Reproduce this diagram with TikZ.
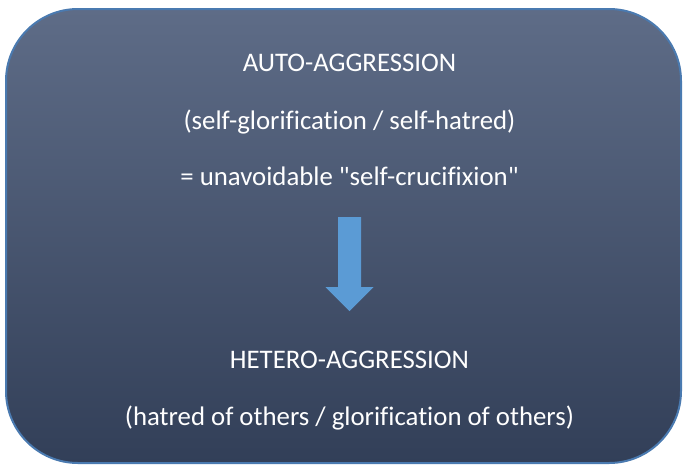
\documentclass[tikz,border=0pt]{standalone}
\usepackage{fontspec}
\setmainfont{Carlito}[Ligatures={NoCommon,TeXOff}]
\usepackage{xcolor}

\definecolor{paneltop}{RGB}{94,108,135}
\definecolor{panelbottom}{RGB}{50,63,88}
\definecolor{panelborder}{RGB}{74,122,176}
\definecolor{arrowblue}{RGB}{91,155,213}

\tikzset{
  label/.style={anchor=base, text=white, font=\fontsize{26.8}{30}\selectfont, inner sep=0pt}
}

\begin{document}
\begin{tikzpicture}[x=1pt, y=-1pt]
        \useasboundingbox (0,0) rectangle (683,464);

        % Points
        \coordinate (NW) at (6,9);
        \coordinate (SE) at (681,463);
        \coordinate (T) at (349.5,217);
        \coordinate (H) at (349.5,287);
        \coordinate (P) at (349.5,311);

        % Panel
        \shade[top color=paneltop, bottom color=panelbottom, rounded corners=72pt] (NW) rectangle (SE);
        \draw[panelborder, line width=2pt, rounded corners=72pt] (NW) rectangle (SE);

        % Arrow
        \fill[arrowblue] ([xshift=-11.5pt]T) -- ([xshift=11.5pt]T) -- ([xshift=11.5pt]H)
          -- ([xshift=24pt]H) -- (P) -- ([xshift=-24pt]H) -- ([xshift=-11.5pt]H) -- cycle;

        % Texts
        \node[label] (auto) at (349.5,71) {AUTO-AGGRESSION};
        \node[label] (self) at (349.5,129) {(self-glorification / self-hatred)};
        \node[label] (cruc) at (349.5,185) {= unavoidable "self-crucifixion"};
        \node[label] (hetero) at (349.5,368) {HETERO-AGGRESSION};
        \node[label] (others) at (349.5,425) {(hatred of others / glorification of others)};
      \end{tikzpicture}
\end{document}
